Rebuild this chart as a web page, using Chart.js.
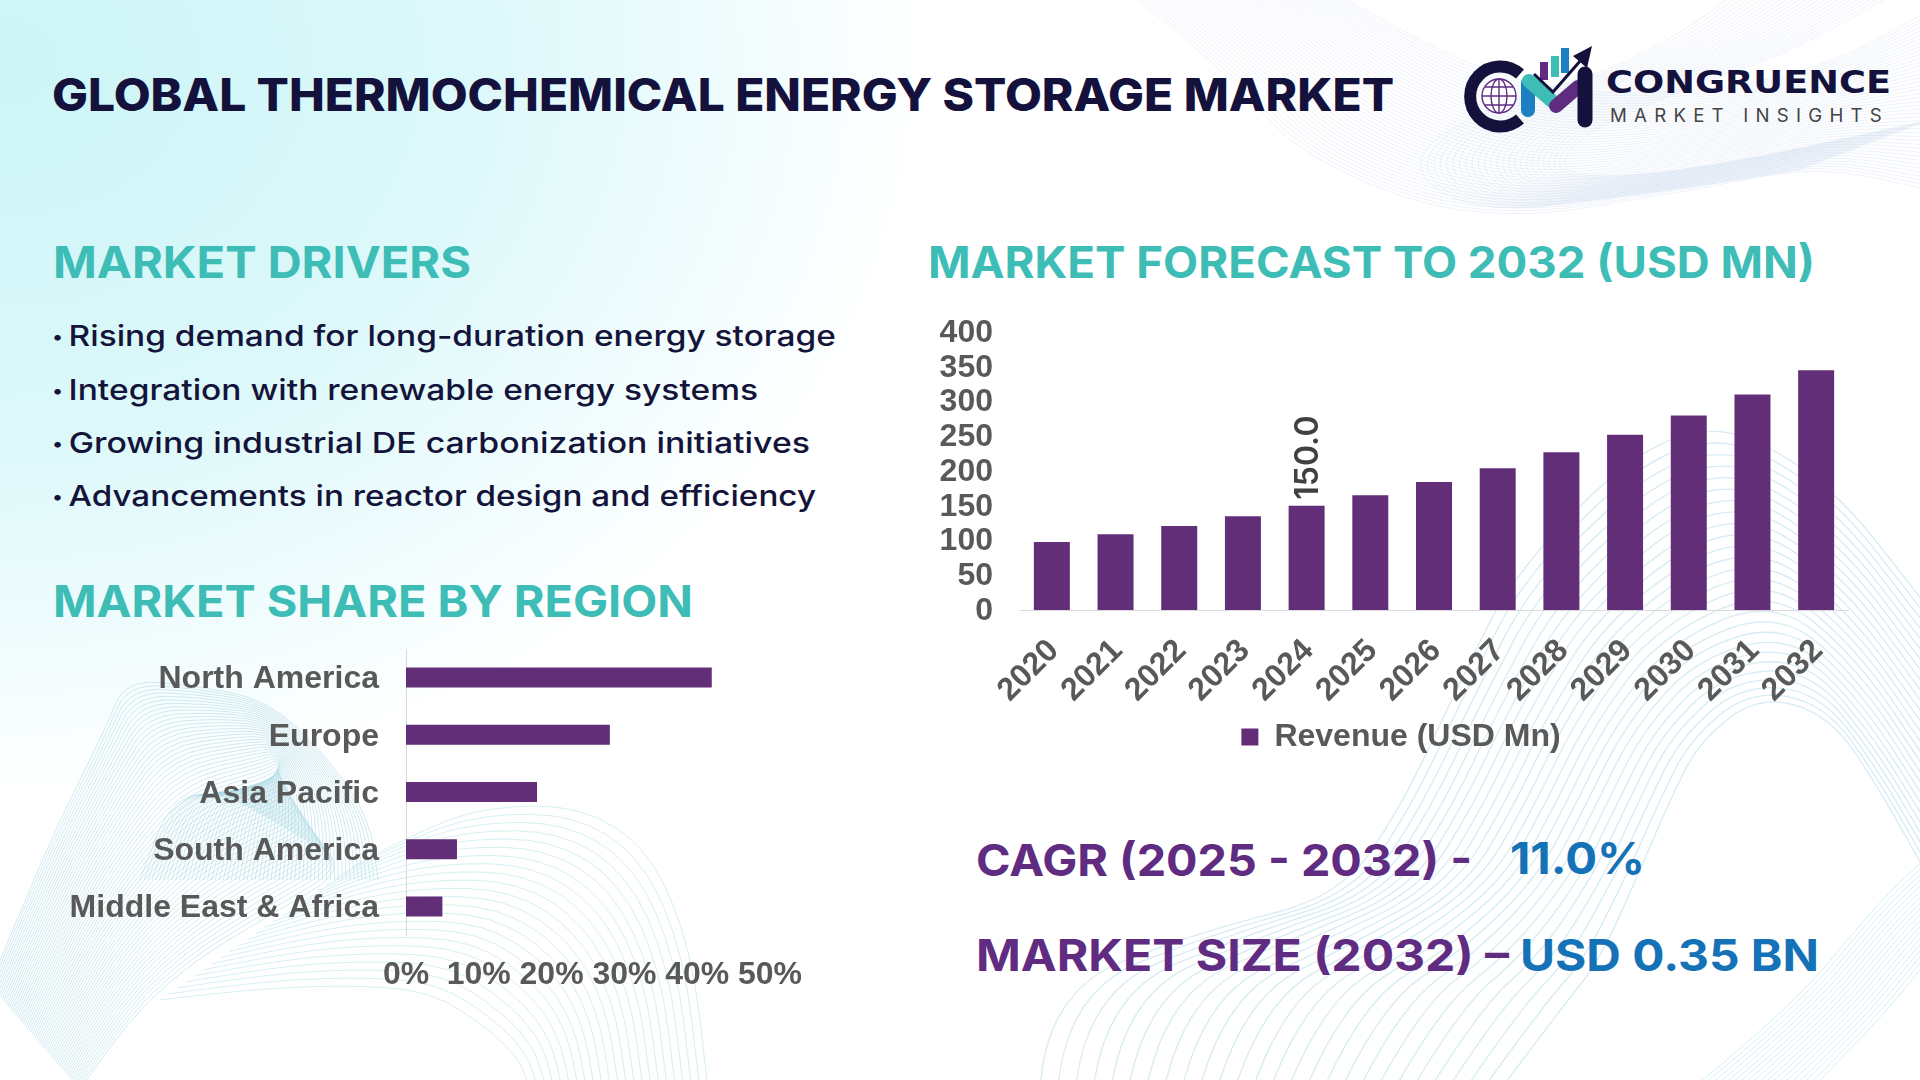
<!DOCTYPE html>
<html>
<head>
<meta charset="utf-8">
<title>Global Thermochemical Energy Storage Market</title>
<script src="https://cdn.jsdelivr.net/npm/chart.js@4"></script>
<style>
  html, body { margin: 0; padding: 0; }
  body {
    width: 1920px; height: 1080px; overflow: hidden; position: relative;
    background: radial-gradient(ellipse 930px 740px at 0 60px, #ccf5f7 0%, #dcf8fa 50%, #f1fcfd 80%, #ffffff 100%), #fff;
  }
  #waves, #logo { position: absolute; left: 0; top: 0; }
  canvas { position: absolute; }
  .t {
    position: absolute; white-space: pre; line-height: 1;
    font-family: Inter, sans-serif; transform-origin: 0 50%;
  }
  .head { font-size: 44px; font-weight: 700; color: #3dbdb6; }
  .li { font-size: 29px; font-weight: 500; color: #14143a; }
  .li i { font-style: normal; font-size: 18px; vertical-align: 3px; margin-right: -3px; }
  .kpi { font-size: 44px; font-weight: 700; color: #5f2c82; }
  .val { color: #1572b6; }
</style>
</head>
<body>
<svg id="waves" width="1920" height="1080"></svg>

<svg id="logo" width="1920" height="200">
  <path d="M1520 74 A30 30 0 1 0 1520 119" fill="none" stroke="#14123c" stroke-width="12"/>
  <g fill="#fff" stroke="#5f2c82" stroke-width="1.4">
    <circle cx="1499" cy="96" r="17"/>
    <ellipse cx="1499" cy="96" rx="8" ry="17"/>
    <path d="M1482 96H1516M1485 87H1513M1485 105H1513M1499 79V113" fill="none"/>
  </g>
  <path d="M1528 83V110" stroke="#1c7fc2" stroke-width="14" stroke-linecap="round"/>
  <path d="M1529 81L1552 101" stroke="#3dbdb6" stroke-width="14" stroke-linecap="round"/>
  <path d="M1556 106L1578 87" stroke="#5f2c82" stroke-width="14" stroke-linecap="round"/>
  <path d="M1585 74V120" stroke="#14123c" stroke-width="15" stroke-linecap="round"/>
  <rect x="1540" y="62" width="8" height="18" fill="#5f2c82"/>
  <rect x="1551" y="56" width="8" height="21" fill="#3dbdb6"/>
  <rect x="1561" y="48" width="8" height="25" fill="#1c7fc2"/>
  <path d="M1534 74L1553 92L1581 60" fill="none" stroke="#14123c" stroke-width="3"/>
  <path d="M1592 46L1587 68L1573 56Z" fill="#14123c"/>
</svg>

<span class="t" data-r="1394" style="left:52px;top:72px;font-size:45px;font-weight:800;color:#14123c">GLOBAL THERMOCHEMICAL ENERGY STORAGE MARKET</span>
<span class="t" data-r="1891" style="left:1606px;top:66px;font-size:32px;font-weight:700;color:#14123c;font-family:'DejaVu Sans'">CONGRUENCE</span>
<span class="t" data-r="1889" style="left:1610px;top:107px;font-size:18px;font-weight:400;color:#444;letter-spacing:7px">MARKET INSIGHTS</span>

<span class="t head" data-r="471" style="left:53px;top:240px">MARKET DRIVERS</span>
<span class="t li" data-r="836" style="left:52px;top:321px"><i>•</i> Rising demand for long-duration energy storage</span>
<span class="t li" data-r="758" style="left:52px;top:375px"><i>•</i> Integration with renewable energy systems</span>
<span class="t li" data-r="810" style="left:52px;top:428px"><i>•</i> Growing industrial DE carbonization initiatives</span>
<span class="t li" data-r="816" style="left:52px;top:481px"><i>•</i> Advancements in reactor design and efficiency</span>
<span class="t head" data-r="693" style="left:53px;top:579px">MARKET SHARE BY REGION</span>
<span class="t head" data-r="1815" style="left:928px;top:240px">MARKET FORECAST TO 2032 (USD MN)</span>

<canvas id="regionChart" width="800" height="360" style="left:40px;top:640px"></canvas>
<canvas id="forecastChart" width="960" height="470" style="left:920px;top:300px"></canvas>

<span class="t kpi" data-r="1472" style="left:976px;top:838px">CAGR (2025 - 2032) -</span>
<span class="t kpi val" data-r="1645" style="left:1510px;top:836px">11.0%</span>
<span class="t kpi" data-r="1509" style="left:976px;top:933px">MARKET SIZE (2032) –</span>
<span class="t kpi val" data-r="1819" style="left:1520px;top:933px">USD 0.35 BN</span>

<script>
// ── Chart data ──
const regions = ['North America', 'Europe', 'Asia Pacific', 'South America', 'Middle East & Africa'];
const regionShare = [42, 28, 18, 7, 5];
const years = ['2020', '2021', '2022', '2023', '2024', '2025', '2026', '2027', '2028', '2029', '2030', '2031', '2032'];
const revenue = [98, 109, 121, 135, 150, 165, 184, 204, 227, 252, 280, 310, 345];
const labelledYear = '2024';
const seriesName = 'Revenue (USD Mn)';

// ── Shared styles ──
const BAR_COLOR = '#622e78';
const TEXT_COLOR = '#595959';
const AXIS_COLOR = '#d9d9d9';
const TICK_FONT = { family: "'Liberation Sans'", size: 32, weight: 'bold' };

// ── Stretch the headings to the widths in the picture ──
document.querySelectorAll('.t').forEach(el => {
  const w = el.getBoundingClientRect().width;
  const target = parseFloat(el.dataset.r) - parseFloat(el.style.left);
  el.style.transform = 'scaleX(' + (target / w) + ')';
});

// ── Decorative background ribbons ──
function smoothPath(pts) {
  let d = 'M' + pts[0][0] + ' ' + pts[0][1];
  for (let i = 1; i < pts.length - 1; i++) {
    const mx = (pts[i][0] + pts[i + 1][0]) / 2;
    const my = (pts[i][1] + pts[i + 1][1]) / 2;
    d += 'Q' + pts[i][0] + ' ' + pts[i][1] + ' ' + mx + ' ' + my;
  }
  const last = pts[pts.length - 1];
  return d + 'L' + last[0] + ' ' + last[1];
}

function ribbon(from, to, count, stroke, opacity, width) {
  let out = '';
  for (let s = 0; s <= count; s++) {
    const k = s / count;
    const pts = from.map((p, i) => [p[0] + (to[i][0] - p[0]) * k, p[1] + (to[i][1] - p[1]) * k]);
    out += '<path d="' + smoothPath(pts) + '" fill="none" stroke="' + stroke + '" stroke-opacity="' + opacity + '" stroke-width="' + width + '"/>';
  }
  return out;
}

document.getElementById('waves').innerHTML =
  // top right
  ribbon([[1125, -10], [1223, 67], [1303, 160], [1480, 225], [1695, 190], [1817, 165], [1930, 190]],
         [[1330, -10], [1400, 30], [1480, 70], [1580, 95], [1730, 90], [1840, 60], [1930, 10]], 44, '#c3d5ec', 0.3, 1) +
  ribbon([[1740, -10], [1650, 60], [1500, 100], [1400, 160], [1470, 215], [1640, 195], [1800, 170]],
         [[1900, -10], [1800, 50], [1680, 90], [1570, 140], [1560, 180], [1700, 170], [1930, 120]], 24, '#c3d5ec', 0.3, 1) +
  // bottom left band
  ribbon([[-10, 985], [45, 850], [105, 730], [125, 680], [190, 685], [270, 700], [330, 760], [370, 820], [378, 880]],
         [[80, 1090], [120, 1030], [184, 967], [270, 915], [352, 867], [290, 830], [220, 790], [170, 800], [140, 880]], 60, '#a3d5e2', 0.5, 1) +
  // bottom left fan
  ribbon([[352, 867], [420, 830], [490, 806], [582, 806], [650, 850], [692, 950], [708, 1090]],
         [[160, 1000], [240, 990], [340, 985], [430, 990], [490, 1030], [520, 1060], [530, 1090]], 22, '#bfe6ec', 0.65, 1) +
  // bottom right
  ribbon([[1040, 1090], [1046, 990], [1205, 930], [1340, 897], [1401, 807], [1450, 703], [1520, 560], [1685, 410], [1820, 470], [1930, 610]],
         [[1500, 1090], [1560, 1010], [1600, 960], [1640, 870], [1670, 800], [1700, 740], [1760, 695], [1830, 715], [1880, 790], [1930, 880]], 26, '#c4e2ee', 0.7, 1.3) +
  ribbon([[1690, 1090], [1790, 1010], [1880, 900], [1935, 850]],
         [[1810, 1090], [1870, 1030], [1920, 970], [1935, 950]], 18, '#bfe6ec', 0.65, 1);

// ── Label only the highlighted bar ──
const singleBarLabel = {
  id: 'singleBarLabel',
  afterDatasetsDraw(chart) {
    const idx = years.indexOf(labelledYear);
    const bar = chart.getDatasetMeta(0).data[idx];
    const { ctx } = chart;
    ctx.save();
    ctx.translate(bar.x + 2, bar.y - 6);
    ctx.rotate(-Math.PI / 2);
    ctx.font = "600 32px Inter";
    ctx.fillStyle = '#404040';
    ctx.textAlign = 'left';
    ctx.textBaseline = 'middle';
    ctx.fillText(revenue[idx].toFixed(1), 0, 0);
    ctx.restore();
  },
};

// the legend sits right of the canvas centre in the picture
const legendShift = {
  id: 'legendShift',
  afterLayout(chart) {
    chart.legend.left = 34;
  },
};

// keep the plot area exactly where layout.padding puts it
function fixBox(scale, size) {
  if (scale.isHorizontal()) scale.height = size;
  else scale.width = size;
  scale.paddingTop = scale.paddingBottom = scale.paddingLeft = scale.paddingRight = 0;
}

// ── Market share by region ──
new Chart(document.getElementById('regionChart'), {
  type: 'bar',
  data: {
    labels: regions,
    datasets: [{ data: regionShare, backgroundColor: BAR_COLOR, barPercentage: 0.35, categoryPercentage: 1 }],
  },
  options: {
    indexAxis: 'y',
    responsive: false,
    animation: false,
    layout: { padding: { top: 9, right: 70 } },
    plugins: { legend: { display: false }, tooltip: { enabled: false } },
    scales: {
      x: {
        min: 0,
        max: 50,
        afterFit: s => fixBox(s, 65),
        grid: { display: false },
        border: { display: false },
        ticks: { stepSize: 10, padding: 13, color: TEXT_COLOR, font: TICK_FONT, maxRotation: 0, autoSkip: false, callback: v => v + '%' },
      },
      y: {
        afterFit: s => fixBox(s, 366),
        grid: { display: false },
        border: { color: AXIS_COLOR, width: 1 },
        ticks: { padding: 19, labelOffset: 2, color: TEXT_COLOR, font: TICK_FONT, autoSkip: false },
      },
    },
  },
});

// ── Market forecast ──
new Chart(document.getElementById('forecastChart'), {
  type: 'bar',
  data: {
    labels: years,
    datasets: [{ label: seriesName, data: revenue, backgroundColor: BAR_COLOR, barPercentage: 0.565, categoryPercentage: 1 }],
  },
  plugins: [singleBarLabel, legendShift],
  options: {
    responsive: false,
    animation: false,
    layout: { padding: { top: 32, right: 32, bottom: 7 } },
    plugins: {
      tooltip: { enabled: false },
      legend: {
        display: true,
        position: 'bottom',
        labels: { color: TEXT_COLOR, font: TICK_FONT, boxWidth: 17, boxHeight: 17, padding: 10 },
      },
    },
    scales: {
      x: {
        afterFit: s => fixBox(s, 101),
        grid: { display: false },
        border: { color: AXIS_COLOR, width: 1 },
        ticks: { padding: 14, labelOffset: 2, color: TEXT_COLOR, font: TICK_FONT, minRotation: 45, maxRotation: 45, autoSkip: false },
      },
      y: {
        min: 0,
        max: 400,
        afterFit: s => fixBox(s, 100),
        grid: { display: false },
        border: { display: false },
        ticks: { stepSize: 50, padding: 19, labelOffset: 1, color: TEXT_COLOR, font: TICK_FONT, autoSkip: false },
      },
    },
  },
});
</script>
</body>
</html>
